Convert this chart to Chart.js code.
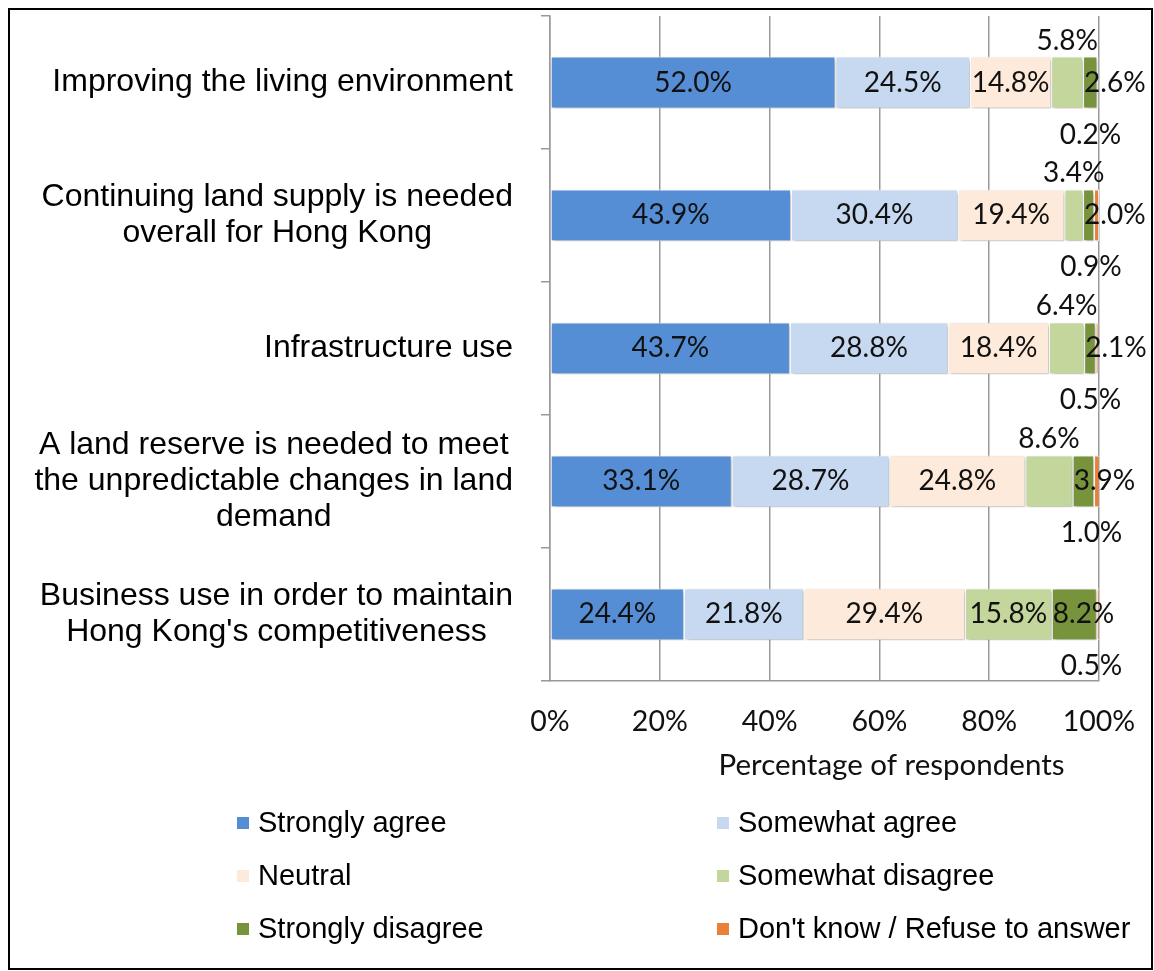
<!DOCTYPE html>
<html>
<head>
<meta charset="utf-8">
<script src="https://cdn.jsdelivr.net/npm/chart.js@4/dist/chart.umd.min.js"></script>
<style>
  html, body { margin: 0; padding: 0; background: #fff; }
  #wrap { position: relative; width: 1154px; height: 971px; }
</style>
</head>
<body>
<div id="wrap"><canvas id="landChart"></canvas></div>
<script>
const categories = [
    'Improving the living environment',
    ['Continuing land supply is needed', 'overall for Hong Kong'],
    'Infrastructure use',
    ['A land reserve is needed to meet', 'the unpredictable changes in land', 'demand'],
    ['Business use in order to maintain', "Hong Kong's competitiveness"]
];
const responseLabels = ['Strongly agree', 'Somewhat agree', 'Neutral', 'Somewhat disagree', 'Strongly disagree', "Don't know / Refuse to answer"];
const stronglyAgree = [52.0, 43.9, 43.7, 33.1, 24.4];
const somewhatAgree = [24.5, 30.4, 28.8, 28.7, 21.8];
const neutral = [14.8, 19.4, 18.4, 24.8, 29.4];
const somewhatDisagree = [5.8, 3.4, 6.4, 8.6, 15.8];
const stronglyDisagree = [2.6, 2.0, 2.1, 3.9, 8.2];
const dontKnow = [0.2, 0.9, 0.5, 1.0, 0.5];
const xTicks = [0, 20, 40, 60, 80, 100];

const colors = ['#558ED5', '#C6D9F1', '#FDEADA', '#C3D69B', '#77933C', '#E8803A'];
const seriesValues = [stronglyAgree, somewhatAgree, neutral, somewhatDisagree, stronglyDisagree, dontKnow];

const labelFont = '28px Lato';
const catFont = '32px "Liberation Sans", Arial, sans-serif';
const legendFont = '29px "Liberation Sans", Arial, sans-serif';

// where each series puts its value label
function labelSpot(dsIndex, value, bar) {
    const mid = (bar.x + bar.base) / 2;
    if (dsIndex === 3 && value < 10) return { x: mid, y: bar.y - 42, align: 'center' };
    if (dsIndex === 4) return { x: bar.base + 1, y: bar.y, align: 'left' };
    if (dsIndex === 5) return { x: bar.x - 8, y: bar.y + 52, align: 'center' };
    return { x: mid, y: bar.y, align: 'center' };
}

const surveyPlugin = {
    id: 'surveyPlugin',
    beforeDraw(chart) {
        const { ctx, width, height } = chart;
        ctx.save();
        ctx.fillStyle = '#fff';
        ctx.fillRect(0, 0, width, height);
        ctx.strokeStyle = '#000';
        ctx.lineWidth = 2;
        ctx.strokeRect(9, 9, width - 11, height - 11);
        ctx.restore();
    },
    beforeDatasetsDraw(chart) {
        const ctx = chart.ctx;
        ctx.save();
        ctx.shadowColor = 'rgba(0,0,0,0.28)';
        ctx.shadowBlur = 4;
        ctx.shadowOffsetX = 2;
        ctx.shadowOffsetY = 2;
    },
    afterDatasetsDraw(chart) {
        const ctx = chart.ctx;
        ctx.restore();
        ctx.save();
        ctx.font = labelFont;
        ctx.fillStyle = '#111';
        ctx.textBaseline = 'middle';
        chart.data.datasets.forEach((ds, i) => {
            chart.getDatasetMeta(i).data.forEach((bar, j) => {
                const v = ds.data[j];
                const spot = labelSpot(i, v, bar);
                ctx.textAlign = spot.align;
                ctx.fillText(v.toFixed(1) + '%', spot.x, spot.y);
            });
        });
        ctx.restore();
    },
    afterDraw(chart) {
        const { ctx, chartArea } = chart;
        const yScale = chart.scales.y;
        ctx.save();

        // category labels: block right-aligned, lines centred within it
        ctx.font = catFont;
        ctx.fillStyle = '#000';
        ctx.textAlign = 'center';
        ctx.textBaseline = 'middle';
        const lineH = 36;
        const rightEdge = chartArea.left - 37;
        chart.data.labels.forEach((lab, i) => {
            const lines = Array.isArray(lab) ? lab : [lab];
            const w = Math.max(...lines.map(l => ctx.measureText(l).width));
            const cx = rightEdge - w / 2;
            const y0 = yScale.getPixelForValue(i) - (lines.length - 1) * lineH / 2;
            lines.forEach((l, k) => ctx.fillText(l, cx, y0 + k * lineH));
        });

        // axis title
        ctx.font = '29.5px Lato';
        ctx.fillStyle = '#111';
        ctx.fillText('Percentage of respondents', (chartArea.left + chartArea.right) / 2 + 67, 765);

        // legend in two columns
        ctx.font = legendFont;
        ctx.textAlign = 'left';
        const colX = [237, 717];
        chart.data.datasets.forEach((ds, i) => {
            const x = colX[i % 2];
            const y = 823 + Math.floor(i / 2) * 53;
            ctx.fillStyle = ds.backgroundColor;
            ctx.fillRect(x, y - 6, 12, 12);
            ctx.fillStyle = '#000';
            ctx.fillText(ds.label, x + 21, y + 1);
        });
        ctx.restore();
    }
};

const ctx = document.getElementById('landChart').getContext('2d');
new Chart(ctx, {
    type: 'bar',
    data: {
        labels: categories,
        datasets: seriesValues.map((vals, i) => ({
            label: responseLabels[i],
            data: vals,
            backgroundColor: colors[i],
            borderColor: '#fff',
            borderWidth: 1,
            borderSkipped: false,
            barPercentage: 0.39,
            categoryPercentage: 1
        }))
    },
    options: {
        indexAxis: 'y',
        responsive: true,
        maintainAspectRatio: false,
        animation: false,
        layout: { padding: { left: 541, right: 55, top: 16, bottom: 208 } },
        plugins: {
            legend: { display: false },
            tooltip: { enabled: false }
        },
        scales: {
            x: {
                stacked: true,
                min: 0,
                max: 100,
                afterBuildTicks: axis => { axis.ticks = xTicks.map(v => ({ value: v })); },
                // the "100%" label may hang into the right margin
                afterFit: axis => { axis.paddingLeft = 0; axis.paddingRight = 0; },
                ticks: {
                    padding: 24,
                    color: '#111',
                    font: { family: 'Lato', size: 28.5 },
                    callback: v => v + '%'
                },
                grid: { color: '#999', lineWidth: 1.5, drawTicks: false },
                border: { color: '#999', width: 1.5 }
            },
            y: {
                stacked: true,
                offset: true,
                ticks: { display: false },
                grid: { offset: true, drawOnChartArea: false, drawTicks: true, tickLength: 9, color: '#999', lineWidth: 1.5 },
                border: { color: '#999', width: 1.5 }
            }
        }
    },
    plugins: [surveyPlugin]
});
</script>
</body>
</html>
